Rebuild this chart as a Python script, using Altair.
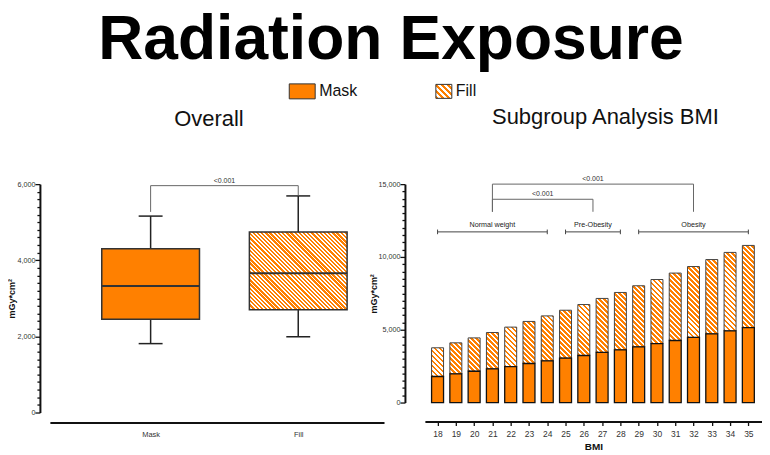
import altair as alt
import pandas as pd

ORANGE = "#FF8000"
FONT = "Liberation Sans"

# ---------------- data ----------------
groups = ["Mask", "Fill"]
whisker_low = [1810, 1990]
q1 = [2450, 2700]
median = [3325, 3660]
q3 = [4300, 4745]
whisker_high = [5160, 5690]

bmi = [18, 19, 20, 21, 22, 23, 24, 25, 26, 27, 28, 29, 30, 31, 32, 33, 34, 35]
mask_vals = [1790, 1970, 2150, 2310, 2470, 2680, 2860, 3050, 3230, 3440, 3620,
             3820, 4050, 4260, 4470, 4720, 4920, 5150]
fill_vals = [1970, 2130, 2290, 2500, 2710, 2890, 3090, 3290, 3500, 3710, 3940,
             4200, 4400, 4630, 4870, 5100, 5390, 5640]

# significance brackets (label, from, to, top, left foot, right foot)
sig_left_label = ["<0.001"]
sig_left_from = [1]
sig_left_to = [2]
sig_left_top = [5960]
sig_left_lfoot = [5270]
sig_left_rfoot = [5700]

sig_right_label = ["<0.001", "<0.001"]
sig_right_from = [21, 21]
sig_right_to = [32, 26.5]
sig_right_top = [15000, 13960]
sig_right_lfoot = [13100, 13100]
sig_right_rfoot = [13100, 13100]

cat_label = ["Normal weight", "Pre-Obesity", "Obesity"]
cat_from = [18, 25, 29]
cat_to = [24, 28, 35]
cat_level = [11720, 11720, 11720]

legend_items = ["Mask", "Fill"]

left_ticks = list(range(0, 6001, 200))
right_ticks = list(range(0, 15001, 500))

# ---------------- style helpers ----------------
def hatch_gradient(w, h, n, period, frac=0.55):
    stops = []
    for i in range(n):
        a = i / n
        b = (i + frac) / n
        c = (i + 1) / n
        stops += [(a, ORANGE), (b, ORANGE), (b, "#ffffff"), (c, "#ffffff")]
    s = ",".join("{'offset':%.5f,'color':'%s'}" % st for st in stops)
    L = n * period
    d2 = f"(({w})*({w})+({h})*({h}))"
    return ("{'gradient':'linear','x1':0,'y1':1,"
            f"'x2':{L}*({w})/{d2},'y2':1-{L}*({h})/{d2},'stops':[{s}]}}")

LW, LH = 335, 229
RW, RH = 338, 219
L_BOX_HALF = 0.331
L_CAP_HALF = 0.081

ax_common = dict(domainColor="#111", domainWidth=2, tickColor="#111",
                 labelColor="#333", labelFont=FONT, titleFont=FONT,
                 titleColor="#111", grid=False, labelOverlap=False)

def y_axis(ticks, major, offset):
    return alt.Axis(values=ticks,
                    labelExpr=f"datum.value % {major} === 0 ? format(datum.value, ',') : ''",
                    tickSize={"condition": {"test": f"datum.value % {major} === 0", "value": 5}, "value": 3},
                    tickWidth=1.3, labelFontSize=7.2, labelPadding=0,
                    title="mGy*cm²", titleFontSize=9, titleFontWeight="bold", titlePadding=0,
                    offset=offset, **ax_common)

# ---------------- left panel ----------------
left_df = pd.DataFrame({
    "group": groups, "pos": list(range(1, len(groups) + 1)),
    "wl": whisker_low, "q1": q1, "med": median, "q3": q3, "wh": whisker_high,
})
XL = alt.Scale(domain=[0.3176, 2.581], nice=False, zero=False, padding=0)
YL = alt.Scale(domain=[0, 6000], nice=False, padding=0)
label_map = " : ".join(f"datum.value === {i+1} ? '{g}'" for i, g in enumerate(groups)) + " : ''"
AXL = alt.Axis(values=list(range(1, len(groups) + 1)), labelExpr=label_map, title=None,
               ticks=False, offset=10, labelFontSize=7.5, labelPadding=8, **ax_common)
AYL = y_axis(left_ticks, 2000, 10)


def xl(f):
    return alt.X(f, scale=XL, axis=AXL, title=None)


def yl(f):
    return alt.Y(f, scale=YL, axis=AYL, title="mGy*cm²")


base_l = alt.Chart(left_df).transform_calculate(
    x0=f"datum.pos - {L_BOX_HALF}", x1=f"datum.pos + {L_BOX_HALF}",
    c0=f"datum.pos - {L_CAP_HALF}", c1=f"datum.pos + {L_CAP_HALF}",
    hpx=f"(datum.q3 - datum.q1) * {LH} / 6000",
)
box_fill = ("datum.group === 'Fill' ? " +
            hatch_gradient("98", "datum.hpx", 48, 4.2) + " : '" + ORANGE + "'")
wst = dict(color="#222", strokeWidth=1.5)

whisk_lo = base_l.mark_rule(**wst).encode(x=xl("pos:Q"), y=yl("wl:Q"), y2="q1:Q")
whisk_hi = base_l.mark_rule(**wst).encode(x=xl("pos:Q"), y=yl("q3:Q"), y2="wh:Q")
cap_lo = base_l.mark_rule(**wst).encode(x=xl("c0:Q"), x2="c1:Q", y=yl("wl:Q"))
cap_hi = base_l.mark_rule(**wst).encode(x=xl("c0:Q"), x2="c1:Q", y=yl("wh:Q"))
box = base_l.mark_rect(stroke="#333", strokeWidth=1.5).encode(
    x=xl("x0:Q"), x2="x1:Q", y=yl("q1:Q"), y2="q3:Q",
    fill=alt.value({"expr": box_fill}))
med = base_l.mark_rule(color="#333", strokeWidth=2).encode(
    x=xl("x0:Q"), x2="x1:Q", y=yl("med:Q"))


def bracket_layers(df, xf, yf):
    b = alt.Chart(df).transform_calculate(mid="(datum.a + datum.b) / 2")
    st = dict(color="#666", strokeWidth=1)
    return [
        b.mark_rule(**st).encode(x=xf("a:Q"), x2="b:Q", y=yf("top:Q")),
        b.mark_rule(**st).encode(x=xf("a:Q"), y=yf("top:Q"), y2="lf:Q"),
        b.mark_rule(**st).encode(x=xf("b:Q"), y=yf("top:Q"), y2="rf:Q"),
        b.mark_text(fontSize=7, font=FONT, color="#333", baseline="bottom", dy=-2).encode(
            x=xf("mid:Q"), y=yf("top:Q"), text="label:N"),
    ]


sigl_df = pd.DataFrame({"label": sig_left_label, "a": sig_left_from, "b": sig_left_to,
                        "top": sig_left_top, "lf": sig_left_lfoot, "rf": sig_left_rfoot})

left = alt.layer(whisk_lo, whisk_hi, cap_lo, cap_hi, box, med,
                 *bracket_layers(sigl_df, xl, yl)).properties(
    width=LW, height=LH,
    title=alt.TitleParams("Overall", fontSize=22, font=FONT, fontWeight="normal",
                          anchor="middle", frame="group", dx=-8, offset=46, color="#111"))

# ---------------- right panel ----------------
right_df = pd.DataFrame({"bmi": bmi, "mask": mask_vals, "fill": fill_vals})
XR = alt.Scale(domain=[17.307, 35.747], nice=False, zero=False, padding=0)
YR = alt.Scale(domain=[0, 15000], nice=False, padding=0)
AXR = alt.Axis(values=bmi, title="BMI", titleFontSize=10, titleFontWeight="bold",
               titlePadding=4, tickSize=4, tickWidth=1.3, offset=19,
               labelFontSize=8.5, labelPadding=4, **ax_common)
AYR = y_axis(right_ticks, 5000, 20)


def xr(f):
    return alt.X(f, scale=XR, axis=AXR, title="BMI")


def yr(f):
    return alt.Y(f, scale=YR, axis=AYR, title="mGy*cm²")


base_r = alt.Chart(right_df).transform_calculate(
    zero="0", total="datum.mask + datum.fill", hpx=f"datum.fill * {RH} / 15000")
fill_bars = base_r.mark_bar(size=12, orient="vertical", stroke="#444", strokeWidth=1).encode(
    x=xr("bmi:Q"), y=yr("mask:Q"), y2="total:Q",
    fill=alt.value({"expr": hatch_gradient("12", "datum.hpx", 24, 5.0)}))
mask_bars = base_r.mark_bar(size=12, orient="vertical", stroke="#111", strokeWidth=1.3,
                            fill=ORANGE).encode(
    x=xr("bmi:Q"), y=yr("zero:Q"), y2="mask:Q")

sigr_df = pd.DataFrame({"label": sig_right_label, "a": sig_right_from, "b": sig_right_to,
                        "top": sig_right_top, "lf": sig_right_lfoot, "rf": sig_right_rfoot})
cat_df = pd.DataFrame({"label": cat_label, "a": cat_from, "b": cat_to, "lvl": cat_level})
cb = alt.Chart(cat_df).transform_calculate(
    mid="(datum.a + datum.b) / 2", lo="datum.lvl - 160", hi="datum.lvl + 160")
cst = dict(color="#444", strokeWidth=1)
cat_layers = [
    cb.mark_rule(**cst).encode(x=xr("a:Q"), x2="b:Q", y=yr("lvl:Q")),
    cb.mark_rule(**cst).encode(x=xr("a:Q"), y=yr("lo:Q"), y2="hi:Q"),
    cb.mark_rule(**cst).encode(x=xr("b:Q"), y=yr("lo:Q"), y2="hi:Q"),
    cb.mark_text(fontSize=7.2, font=FONT, color="#222", baseline="bottom", dy=-3).encode(
        x=xr("mid:Q"), y=yr("lvl:Q"), text="label:N"),
]

right = alt.layer(fill_bars, mask_bars, *bracket_layers(sigr_df, xr, yr), *cat_layers).properties(
    width=RW, height=RH,
    title=alt.TitleParams("Subgroup Analysis BMI", fontSize=22, font=FONT, fontWeight="normal",
                          anchor="middle", frame="group", dx=12, offset=46, color="#111"))

# ---------------- legend ----------------
leg_df = pd.DataFrame({"item": legend_items})
LX = alt.Scale(type="point", domain=legend_items, range=[270, 407], padding=0)
leg_base = alt.Chart(leg_df)
leg_mask = leg_base.transform_filter(f"datum.item === '{legend_items[0]}'").mark_rect(
    width=26, height=15, xOffset=-17, fill=ORANGE, stroke="#333", strokeWidth=1).encode(
    x=alt.X("item:N", scale=LX, axis=None), y=alt.value(12))
leg_fill = leg_base.transform_filter(f"datum.item === '{legend_items[1]}'").mark_rect(
    width=16, height=14, xOffset=-12, stroke="#333", strokeWidth=1).encode(
    x=alt.X("item:N", scale=LX, axis=None), y=alt.value(12),
    fill=alt.value({"expr": hatch_gradient("16", "14", 8, 6.0, 0.5)}))
leg_text = leg_base.mark_text(align="left", baseline="middle", fontSize=16, font=FONT,
                              color="#111").encode(
    x=alt.X("item:N", scale=LX, axis=None), y=alt.value(12), text="item:N")
legend = alt.layer(leg_mask, leg_fill, leg_text).properties(width=700, height=20)

chart = alt.vconcat(
    legend,
    alt.hconcat(left, right, spacing=41, bounds="flush"),
    spacing=7,
).properties(
    padding=0,
    title=alt.TitleParams("Radiation Exposure", fontSize=62.5, fontWeight="bold", font=FONT,
                          anchor="middle", dx=6, offset=7, color="black"),
).configure(font=FONT).configure_view(stroke=None, strokeWidth=0)

chart.save("out.html", embed_options={"renderer": "svg", "actions": False})
